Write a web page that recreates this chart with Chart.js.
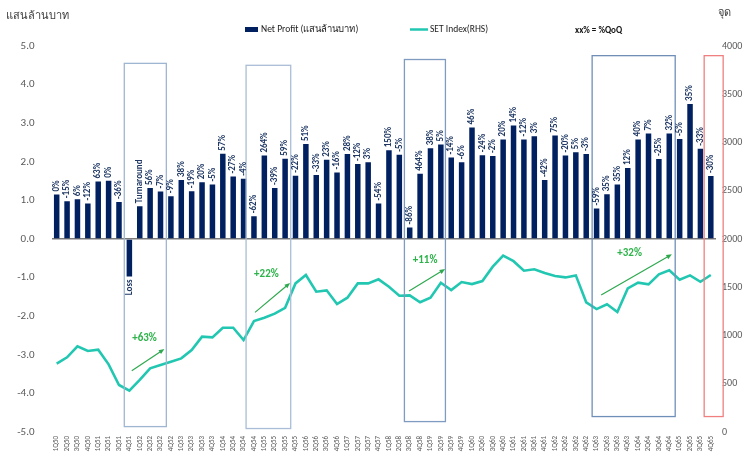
<!DOCTYPE html>
<html>
<head>
<meta charset="utf-8">
<script src="https://cdn.jsdelivr.net/npm/chart.js@4.4.1/dist/chart.umd.min.js"></script>
<style>
html,body{margin:0;padding:0;background:#fff;}
#wrap{width:747px;height:458px;position:relative;}
</style>
</head>
<body>
<div id="wrap"><canvas id="c" width="747" height="458"></canvas></div>
<script>
const quarters = ["1Q50","2Q50","3Q50","4Q50","1Q51","2Q51","3Q51","4Q51","1Q52","2Q52","3Q52","4Q52",
"1Q53","2Q53","3Q53","4Q53","1Q54","2Q54","3Q54","4Q54","1Q55","2Q55","3Q55","4Q55",
"1Q56","2Q56","3Q56","4Q56","1Q57","2Q57","3Q57","4Q57","1Q58","2Q58","3Q58","4Q58",
"1Q59","2Q59","3Q59","4Q59","1Q60","2Q60","3Q60","4Q60","1Q61","2Q61","3Q61","4Q61",
"1Q62","2Q62","3Q62","4Q62","1Q63","2Q63","3Q63","4Q63","1Q64","2Q64","3Q64","4Q64",
"1Q65","2Q65","3Q65","4Q65"];

const netProfit = [1.15,0.98,1.03,0.92,1.49,1.51,0.96,-0.97,0.85,1.32,1.23,1.11,
1.53,1.24,1.47,1.41,2.21,1.62,1.56,0.59,2.16,1.32,2.08,1.64,
2.46,1.66,2.05,1.72,2.20,1.94,1.99,0.92,2.30,2.18,0.30,1.69,
2.35,2.45,2.11,1.99,2.89,2.17,2.15,2.58,2.94,2.58,2.66,1.53,
2.68,2.16,2.25,2.20,0.79,1.16,1.41,1.84,2.58,2.73,2.07,2.73,
2.59,3.50,2.34,1.63];

const qoqLabels = ["0%","-15%","6%","-12%","63%","0%","-36%","Loss","Turnaround","56%","-7%","-9%",
"38%","-19%","20%","-5%","57%","-27%","-4%","-62%","264%","-39%","59%","-22%",
"51%","-33%","23%","-16%","28%","-12%","3%","-54%","150%","-5%","-86%","464%",
"38%","5%","-14%","-6%","46%","-24%","-2%","20%","14%","-12%","3%","-42%",
"75%","-20%","5%","-3%","-59%","35%","35%","12%","40%","7%","-25%","32%",
"-5%","35%","-33%","-30%"];

const setIndex = [708,774,888,839,853,701,487,428,539,660,694,729,
763,850,988,981,1081,1081,953,1150,1184,1226,1287,1540,
1627,1454,1468,1326,1392,1540,1540,1582,1505,1412,1416,1344,
1392,1547,1471,1554,1533,1564,1713,1827,1770,1671,1686,1647,
1616,1602,1623,1344,1274,1323,1243,1488,1547,1530,1634,1675,
1578,1623,1557,1627];

const leftTicks = [-5,-4,-3,-2,-1,0,1,2,3,4,5];
const rightTicks = [0,500,1000,1500,2000,2500,3000,3500,4000];

// highlight boxes (category index edges, left-axis value edges)
const boxFrom   = [6.51, 18.24, 33.49, 51.57, 62.36];
const boxTo     = [10.56, 22.54, 37.44, 59.57, 64.19];
const boxTop    = [4.55, 4.50, 4.65, 4.75, 4.75];
const boxBottom = [-4.86, -4.91, -4.73, -4.60, -4.60];
const boxColors = ["#9fb6d2","#a9bdd6","#7f9cc0","#6f8fb8","#f08080"];

// SET growth arrows (category index, SET value)
const arrowText = ["+63%","+22%","+11%","+32%"];
const arrowX0 = [7.23, 19.1, 33.94, 52.44];
const arrowY0 = [635, 1240, 1461, 1419];
const arrowX1 = [10.37, 22.48, 37.41, 59.25];
const arrowY1 = [860, 1544, 1689, 1841];
const arrowLabelX = [8.46, 20.2, 35.48, 55.18];
const arrowLabelY = [974, 1637, 1775, 1851];

const FONT = "'Carlito','Liberation Sans Narrow','Liberation Sans','Noto Sans',sans-serif";

const overlay = {
  id: 'overlay',
  afterDatasetsDraw(chart) {
    const ctx = chart.ctx;
    const xs = chart.scales.x, yl = chart.scales.y, yr = chart.scales.y2;
    const meta = chart.getDatasetMeta(1);
    // boxes
    ctx.save();
    for (let i = 0; i < boxFrom.length; i++) {
      const x0 = xs.getPixelForValue(boxFrom[i]), x1 = xs.getPixelForValue(boxTo[i]);
      const y0 = yl.getPixelForValue(boxTop[i]), y1 = yl.getPixelForValue(boxBottom[i]);
      ctx.strokeStyle = boxColors[i];
      ctx.lineWidth = 1.3;
      ctx.strokeRect(x0, y0, x1 - x0, y1 - y0);
    }
    ctx.restore();
    // bar labels
    ctx.save();
    ctx.fillStyle = '#1f3864';
    ctx.font = "bold 9px " + FONT;
    ctx.textBaseline = 'middle';
    meta.data.forEach((bar, i) => {
      const v = netProfit[i];
      ctx.save();
      if (v >= 0) {
        ctx.translate(bar.x, bar.y - 3);
        ctx.rotate(-Math.PI / 2);
        ctx.textAlign = 'left';
      } else {
        ctx.translate(bar.x, bar.y + 3);
        ctx.rotate(-Math.PI / 2);
        ctx.textAlign = 'right';
      }
      ctx.fillText(qoqLabels[i], 0, 0);
      ctx.restore();
    });
    ctx.restore();
    // arrows
    ctx.save();
    for (let i = 0; i < arrowText.length; i++) {
      const ax0 = xs.getPixelForValue(arrowX0[i]), ay0 = yr.getPixelForValue(arrowY0[i]);
      const ax1 = xs.getPixelForValue(arrowX1[i]), ay1 = yr.getPixelForValue(arrowY1[i]);
      ctx.strokeStyle = '#2ea84f';
      ctx.fillStyle = '#2ea84f';
      ctx.lineWidth = 1.2;
      const ang = Math.atan2(ay1 - ay0, ax1 - ax0);
      const hl = 6;
      ctx.beginPath();
      ctx.moveTo(ax0, ay0);
      ctx.lineTo(ax1 - Math.cos(ang) * hl * 0.8, ay1 - Math.sin(ang) * hl * 0.8);
      ctx.stroke();
      ctx.beginPath();
      ctx.moveTo(ax1, ay1);
      ctx.lineTo(ax1 - hl * Math.cos(ang - 0.4), ay1 - hl * Math.sin(ang - 0.4));
      ctx.lineTo(ax1 - hl * Math.cos(ang + 0.4), ay1 - hl * Math.sin(ang + 0.4));
      ctx.closePath();
      ctx.fill();
      ctx.fillStyle = '#2db34a';
      ctx.font = "bold 11px " + FONT;
      ctx.textAlign = 'center';
      ctx.textBaseline = 'middle';
      ctx.fillText(arrowText[i], xs.getPixelForValue(arrowLabelX[i]), yr.getPixelForValue(arrowLabelY[i]));
    }
    ctx.restore();
    // titles and legend
    ctx.save();
    ctx.textBaseline = 'middle';
    ctx.fillStyle = '#404040';
    ctx.font = "11px " + FONT;
    ctx.textAlign = 'left';
    ctx.fillText('แสนล้านบาท', 6, 16);
    ctx.textAlign = 'right';
    ctx.fillText('จุด', 731, 13);
    ctx.textAlign = 'left';
    ctx.font = "9.5px " + FONT;
    ctx.fillStyle = chart.data.datasets[1].backgroundColor;
    ctx.fillRect(245, 27, 13, 5);
    ctx.fillStyle = '#222';
    ctx.fillText(chart.data.datasets[1].label, 261, 29.5);
    ctx.strokeStyle = chart.data.datasets[0].borderColor;
    ctx.lineWidth = 2.5;
    ctx.beginPath(); ctx.moveTo(410, 29.5); ctx.lineTo(428, 29.5); ctx.stroke();
    ctx.fillText(chart.data.datasets[0].label, 430, 29.5);
    ctx.font = "bold 9px " + FONT;
    ctx.fillStyle = '#111';
    ctx.fillText('xx% = %QoQ', 575, 31);
    ctx.restore();
  }
};

new Chart(document.getElementById('c'), {
  data: {
    labels: quarters,
    datasets: [
      {
        type: 'line',
        label: 'SET Index(RHS)',
        data: setIndex,
        yAxisID: 'y2',
        borderColor: '#22c7b2',
        borderWidth: 2.6,
        pointRadius: 0,
        tension: 0,
        order: 0
      },
      {
        type: 'bar',
        label: 'Net Profit (แสนล้านบาท)',
        data: netProfit,
        yAxisID: 'y',
        backgroundColor: '#002060',
        barPercentage: 0.53,
        categoryPercentage: 1.0,
        order: 1
      }
    ]
  },
  options: {
    responsive: false,
    animation: false,
    layout: { padding: { left: 0, right: 0, top: 46, bottom: 0 } },
    plugins: { legend: { display: false }, tooltip: { enabled: false } },
    scales: {
      x: {
        offset: true,
        grid: { display: false, drawTicks: false },
        border: { display: false },
        ticks: {
          autoSkip: false, maxRotation: 90, minRotation: 90, padding: 4,
          color: '#595959', font: { size: 7, family: FONT }
        },
        afterFit(s) { s.height = 26; }
      },
      y: {
        position: 'left',
        min: -5, max: 5,
        afterBuildTicks(s) { s.ticks = leftTicks.map(v => ({ value: v })); },
        grid: {
          drawTicks: false,
          color: c => (c.tick && c.tick.value === 0) ? '#7a7a7a' : 'rgba(0,0,0,0)',
          lineWidth: 1.5
        },
        border: { display: false },
        ticks: {
          padding: 17, color: '#595959',
          font: { size: 11, family: FONT },
          callback: v => Number(v).toFixed(1)
        },
        afterFit(s) { s.width = 51.5; }
      },
      y2: {
        position: 'right',
        min: 0, max: 4000,
        afterBuildTicks(s) { s.ticks = rightTicks.map(v => ({ value: v })); },
        grid: { display: false, drawTicks: false },
        border: { display: false },
        ticks: {
          padding: 6, color: '#595959', font: { size: 10, family: FONT },
          callback: v => String(v)
        },
        afterFit(s) { s.width = 31; }
      }
    }
  },
  plugins: [overlay]
});
</script>
</body>
</html>
